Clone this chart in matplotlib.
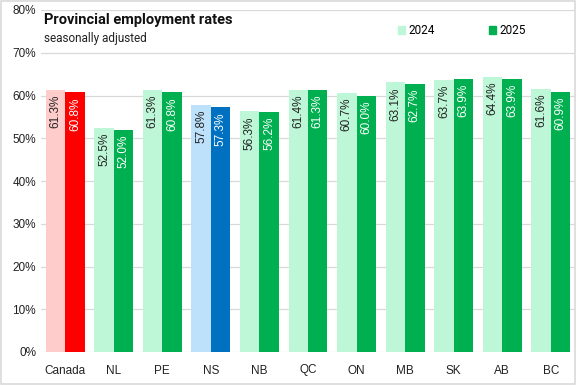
import numpy as np
import matplotlib.pyplot as plt
from matplotlib.patches import Patch

plt.rcParams['font.family'] = ['Liberation Sans', 'DejaVu Sans']

regions = ['Canada', 'NL', 'PE', 'NS', 'NB', 'QC', 'ON', 'MB', 'SK', 'AB', 'BC']
rate_2024 = [61.3, 52.5, 61.3, 57.8, 56.3, 61.4, 60.7, 63.1, 63.7, 64.4, 61.6]
rate_2025 = [60.8, 52.0, 60.8, 57.3, 56.2, 61.3, 60.0, 62.7, 63.9, 63.9, 60.9]

light = ['#bdf7d7'] * len(regions)
dark = ['#00b050'] * len(regions)
light[0], dark[0] = '#ffcccc', '#ff0000'
light[3], dark[3] = '#bde0fb', '#0070c0'

fig = plt.figure(figsize=(5.77, 3.85), dpi=100)
ax = fig.add_axes([41/577, 33/385, 534/577, 342/385])

x = np.arange(len(regions))
w = 0.4
ax.bar(x - w/2, rate_2024, w, color=light, zorder=2)
ax.bar(x + w/2, rate_2025, w, color=dark, zorder=2)

for i in range(len(regions)):
    ax.text(x[i] - w/2, rate_2024[i] - 1.2, f'{rate_2024[i]:.1f}%', rotation=90,
            ha='center', va='top', fontsize=8.5, color='#222222', zorder=3)
    ax.text(x[i] + w/2, rate_2025[i] - 1.2, f'{rate_2025[i]:.1f}%', rotation=90,
            ha='center', va='top', fontsize=8.5, color='white', zorder=3)

ax.set_xlim(-0.5, len(regions) - 0.5)
ax.set_ylim(0, 80)
ax.set_yticks(range(0, 81, 10))
ax.set_yticklabels([f'{v}%' for v in range(0, 81, 10)])
ax.set_xticks(x)
ax.set_xticklabels(regions)
ax.tick_params(length=0, labelsize=8.5, colors='#222222')
ax.tick_params(axis='x', pad=9)
ax.grid(axis='y', color='#d9d9d9', lw=0.9, zorder=0)
for s in ax.spines.values():
    s.set_visible(False)

ax.text(0.005, 0.99, 'Provincial employment rates', transform=ax.transAxes,
        fontsize=10.5, fontweight='bold', va='top', color='#111111',
        family=['Roboto', 'DejaVu Sans'])
ax.text(0.005, 0.935, 'seasonally adjusted', transform=ax.transAxes,
        fontsize=8.5, va='top', color='#222222', family=['Roboto', 'DejaVu Sans'])

handles = [Patch(color='#bdf7d7', label='2024'), Patch(color='#00b050', label='2025')]
ax.legend(handles=handles, ncol=2, frameon=False, loc='upper left',
          bbox_to_anchor=(346/534, 0.99), handlelength=0.6,
          handleheight=0.6, handletextpad=0.3, columnspacing=4.6,
          prop={'family': ['Roboto', 'DejaVu Sans'], 'size': 8.5})

fig.patches.append(plt.Rectangle((0.002, 0.003), 0.994, 0.994, transform=fig.transFigure,
                                 fill=False, edgecolor='#d9d9d9', lw=1.2))

fig.savefig('out.png', dpi=100)
